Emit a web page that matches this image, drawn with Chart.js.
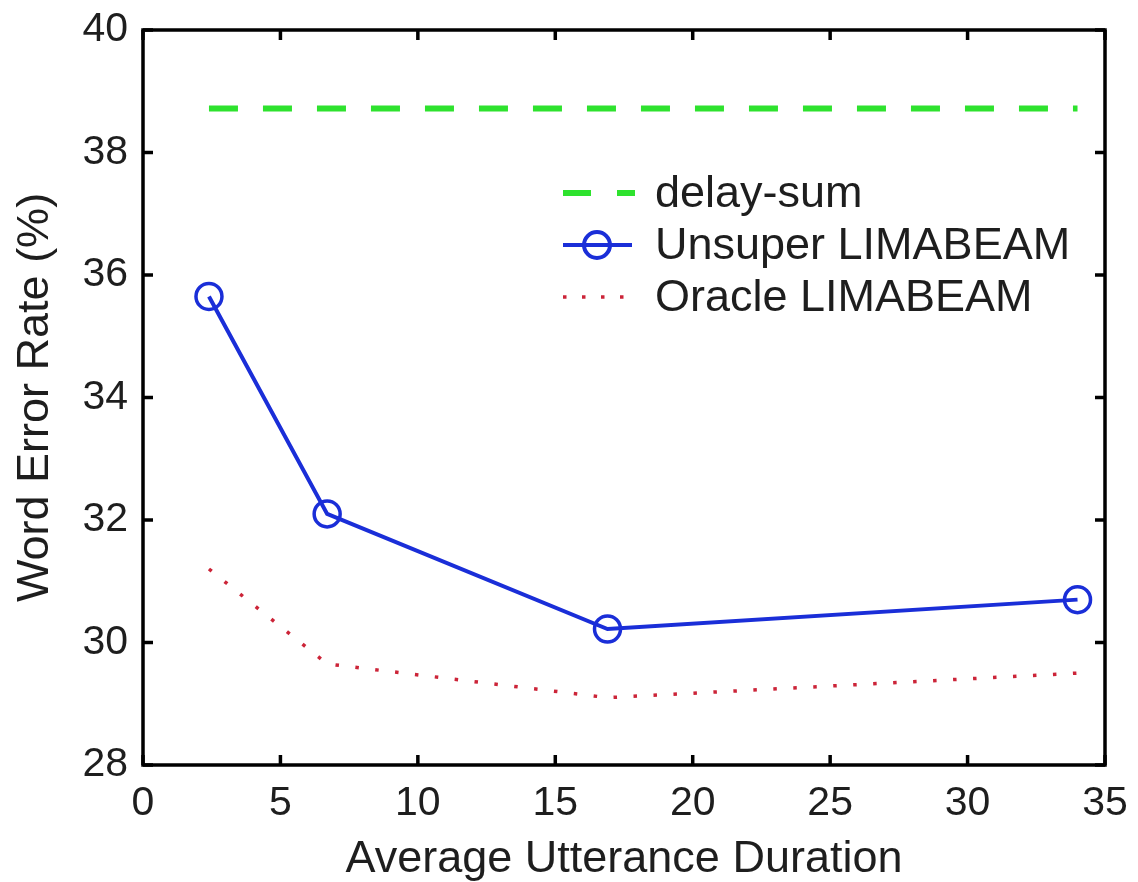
<!DOCTYPE html>
<html>
<head>
<meta charset="utf-8">
<script src="https://cdn.jsdelivr.net/npm/chart.js@4"></script>
<style>
  html, body { margin: 0; padding: 0; background: #fff; }
  #wrap { width: 1138px; height: 882px; }
</style>
</head>
<body>
<div id="wrap"><canvas id="myChart" width="1138" height="882"></canvas></div>
<script>
// values
const durations = [2.4, 6.7, 16.9, 34];
const unsuperWER = [35.65, 32.1, 30.22, 30.7];
const oracleWER = [31.2, 29.65, 29.1, 29.5];
const delaySumX = [2.4, 34];
const delaySumWER = [38.72, 38.72];
const xTicks = [0, 5, 10, 15, 20, 25, 30, 35];
const yTicks = [28, 30, 32, 34, 36, 38, 40];
const seriesNames = ['delay-sum', 'Unsuper LIMABEAM', 'Oracle LIMABEAM'];

const font = '"Liberation Sans", Arial, Helvetica, sans-serif';
const textColor = '#1e1e1e';
const green = '#2ee22e', blue = '#1a2ed8', red = '#cc2438';

function toPoints(xs, ys) {
    return xs.map((x, i) => ({ x: x, y: ys[i] }));
}

// frame, inward tick marks and the legend box inside the plot
const framePlugin = {
    id: 'frame',
    afterDraw(chart) {
        const ctx = chart.ctx;
        const a = chart.chartArea;
        const xs = chart.scales.x, ys = chart.scales.y;
        const tl = 10;
        ctx.save();
        ctx.strokeStyle = '#000';
        ctx.lineWidth = 3.5;
        ctx.beginPath();
        xTicks.forEach(v => {
            const px = xs.getPixelForValue(v);
            ctx.moveTo(px, a.bottom); ctx.lineTo(px, a.bottom - tl);
            ctx.moveTo(px, a.top); ctx.lineTo(px, a.top + tl);
        });
        yTicks.forEach(v => {
            const py = ys.getPixelForValue(v);
            ctx.moveTo(a.left, py); ctx.lineTo(a.left + tl, py);
            ctx.moveTo(a.right, py); ctx.lineTo(a.right - tl, py);
        });
        ctx.stroke();
        ctx.strokeRect(a.left, a.top, a.right - a.left, a.bottom - a.top);

        // legend
        const lx0 = 563, lx1 = 635, tx = 655;
        const rows = [193, 245, 297];
        ctx.font = '45px ' + font;
        ctx.fillStyle = textColor;
        ctx.textBaseline = 'middle';
        ctx.textAlign = 'left';

        ctx.strokeStyle = green; ctx.lineWidth = 6; ctx.setLineDash([28, 26]);
        ctx.beginPath(); ctx.moveTo(lx0, rows[0]); ctx.lineTo(lx1, rows[0]); ctx.stroke();

        ctx.strokeStyle = blue; ctx.lineWidth = 4; ctx.setLineDash([]);
        ctx.beginPath(); ctx.moveTo(lx0, rows[1]); ctx.lineTo(lx1 - 3, rows[1]); ctx.stroke();
        ctx.beginPath(); ctx.arc(597, rows[1], 13, 0, Math.PI * 2); ctx.stroke();

        ctx.strokeStyle = red; ctx.lineWidth = 3.5; ctx.setLineDash([3.5, 15.5]);
        ctx.beginPath(); ctx.moveTo(lx0, rows[2]); ctx.lineTo(lx1 - 10, rows[2]); ctx.stroke();
        ctx.setLineDash([]);

        seriesNames.forEach((s, i) => ctx.fillText(s, tx, rows[i] + 2));
        ctx.restore();
    }
};

new Chart('myChart', {
    type: 'line',
    data: {
        datasets: [
            {
                label: seriesNames[0],
                data: toPoints(delaySumX, delaySumWER),
                borderColor: green,
                borderWidth: 6,
                borderDash: [29, 25],
                pointRadius: 0
            },
            {
                label: seriesNames[1],
                data: toPoints(durations, unsuperWER),
                borderColor: blue,
                borderWidth: 4,
                pointRadius: 13,
                pointBorderWidth: 3.5,
                pointBorderColor: blue,
                pointBackgroundColor: 'rgba(0,0,0,0)'
            },
            {
                label: seriesNames[2],
                data: toPoints(durations, oracleWER),
                borderColor: red,
                borderWidth: 3.5,
                borderDash: [3.5, 16.5],
                pointRadius: 0
            }
        ]
    },
    options: {
        responsive: false,
        animation: false,
        layout: { padding: { top: 30, right: 33, left: 0, bottom: 0 } },
        plugins: { legend: { display: false }, tooltip: { enabled: false } },
        scales: {
            x: {
                type: 'linear',
                min: 0, max: 35,
                afterFit: s => { s.height = 117; s.paddingLeft = 0; s.paddingRight = 0; },
                afterBuildTicks: s => { s.ticks = xTicks.map(v => ({ value: v })); },
                grid: { display: false, drawTicks: false },
                border: { display: false },
                ticks: { color: textColor, padding: 14, maxRotation: 0, font: { family: font, size: 41 } },
                title: { display: true, text: 'Average Utterance Duration', color: textColor,
                         padding: { top: 0, bottom: 0 }, font: { family: font, size: 45, lineHeight: 1.0 } }
            },
            y: {
                min: 28, max: 40,
                afterFit: s => { s.width = 143; s.paddingTop = 0; s.paddingBottom = 0; },
                afterBuildTicks: s => { s.ticks = yTicks.map(v => ({ value: v })); },
                grid: { display: false, drawTicks: false },
                border: { display: false },
                ticks: { color: textColor, padding: 15, font: { family: font, size: 41 } },
                title: { display: true, text: 'Word Error Rate (%)', color: textColor,
                         padding: { top: 9, bottom: 0 }, font: { family: font, size: 45 } }
            }
        }
    },
    plugins: [framePlugin]
});
</script>
</body>
</html>
